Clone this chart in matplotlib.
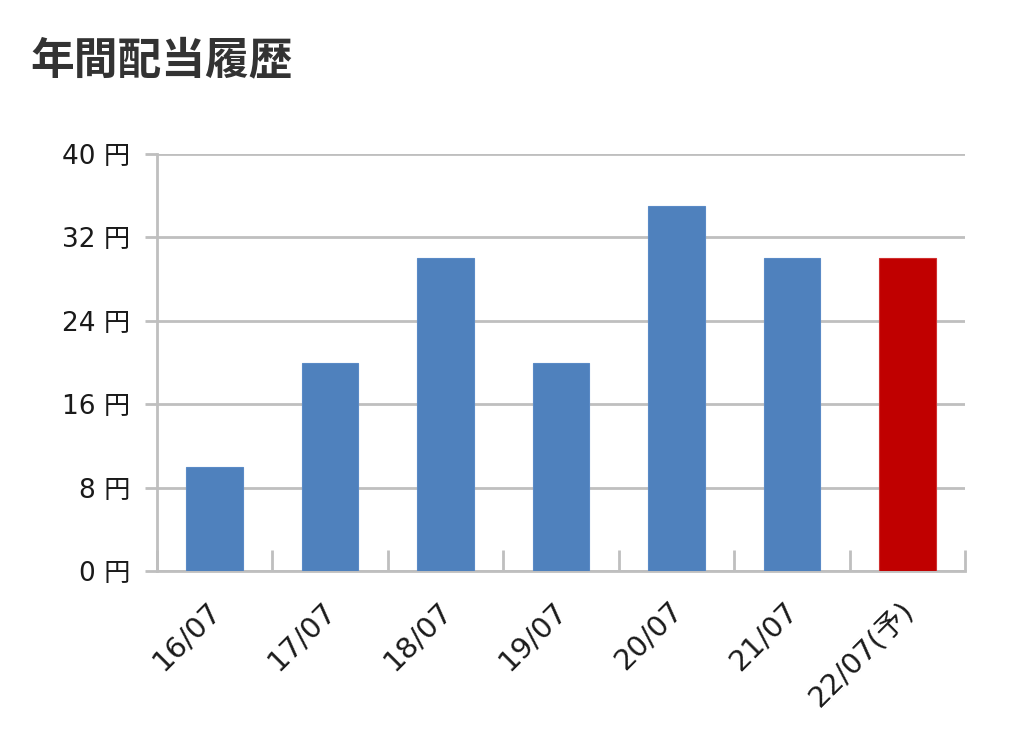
import matplotlib
matplotlib.use("Agg")
import matplotlib.pyplot as plt
import matplotlib.transforms as mtrans
from matplotlib.ticker import FixedLocator
import numpy as np

plt.rcParams['font.family'] = ['DejaVu Sans', 'Noto Sans CJK JP']

title = "年間配当履歴"
categories = ["16/07", "17/07", "18/07", "19/07", "20/07", "21/07", "22/07(予)"]
values = [10, 20, 30, 20, 35, 30, 30]
is_forecast = [False, False, False, False, False, False, True]
y_ticks = [0, 8, 16, 24, 32, 40]
y_tick_labels = [f"{v} 円" for v in y_ticks]

blue = "#4f81bd"
red = "#c00000"
grid_c = "#bfbfbf"

fig = plt.figure(figsize=(10.24, 7.38), dpi=100)
ax = fig.add_axes([157/1024, 1 - 571/738, (965-157)/1024, (571-154)/738])

x = np.arange(len(categories))
colors = [red if f else blue for f in is_forecast]
edges = ["#d03030" if f else "#5a8ac6" for f in is_forecast]
ax.bar(x, values, width=0.49, color=colors, edgecolor=edges, linewidth=0.8, zorder=3)

ax.set_xlim(-0.5, len(categories) - 0.5)
ax.set_ylim(0, 40)
ax.set_yticks(y_ticks)
ax.set_yticklabels(y_tick_labels, fontsize=19, color="#1a1a1a")
ax.yaxis.grid(True, color=grid_c, linewidth=2, zorder=0)
ax.tick_params(axis='y', length=9, width=2, color=grid_c, pad=10)

ax.set_xticks(x)
ax.set_xticklabels(categories, fontsize=21, color="#1a1a1a", rotation=45,
                   ha='right', va='top', rotation_mode='anchor')
ax.tick_params(axis='x', which='major', length=0, pad=18)
offset = mtrans.ScaledTranslation(-8/100, 0, fig.dpi_scale_trans)
for lbl in ax.get_xticklabels():
    lbl.set_transform(lbl.get_transform() + offset)
ax.xaxis.set_minor_locator(FixedLocator(np.arange(-0.5, len(categories), 1.0)))
ax.tick_params(axis='x', which='minor', direction='in', length=15, width=2, color=grid_c)

for s in ['top', 'right']:
    ax.spines[s].set_visible(False)
for s in ['left', 'bottom']:
    ax.spines[s].set_color(grid_c)
    ax.spines[s].set_linewidth(2)

fig.text(30/1024, 1 - 60/738, title, fontsize=31.5, fontweight='bold', color="#333333",
         ha='left', va='center', family=['Noto Sans CJK JP', 'DejaVu Sans'])

fig.savefig("out.png", dpi=100, facecolor="white")
